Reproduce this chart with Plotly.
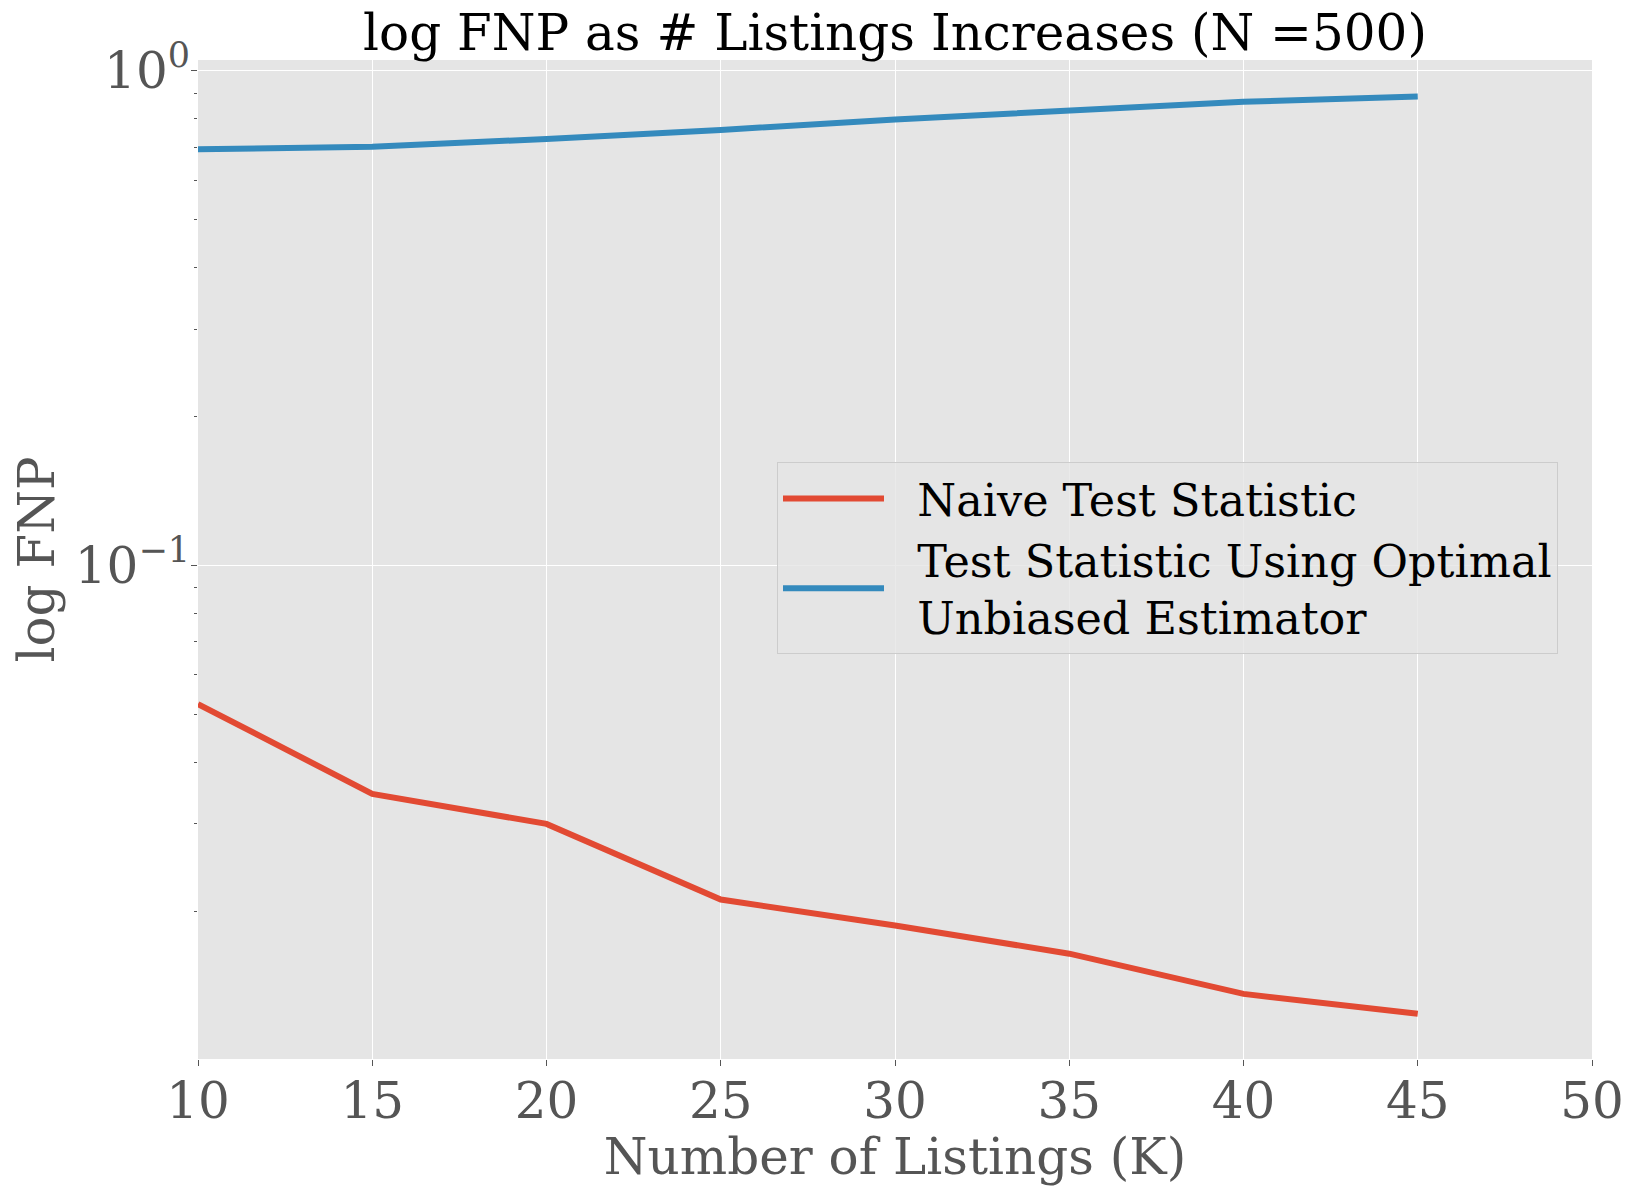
import plotly.graph_objects as go

# Data
listings_k = [10, 15, 20, 25, 30, 35, 40, 45]
naive_fnp = [0.0524, 0.0345, 0.0300, 0.0211, 0.0187, 0.0164, 0.0136, 0.0124]
optimal_fnp = [0.693, 0.701, 0.727, 0.758, 0.796, 0.831, 0.864, 0.886]
x_ticks = [10, 15, 20, 25, 30, 35, 40, 45, 50]
y_major = [0.1, 1]
y_major_text = ["10<sup>\u22121</sup>", "10<sup>0</sup>"]
y_minor = [0.02, 0.03, 0.04, 0.05, 0.06, 0.07, 0.08, 0.09,
           0.2, 0.3, 0.4, 0.5, 0.6, 0.7, 0.8, 0.9]
series_names = ["Naive Test Statistic",
                "Test Statistic Using Optimal<br>Unbiased Estimator"]

FONT = "DejaVu Serif"
RED = "#E24A33"
BLUE = "#348ABD"
GREY = "#555555"
YRANGE = [-1.998, 0.021]
PAD = "\u00a0\u00a0"

# page body has an 8px margin; figure is sized to fit the 1633x1194 window
W, H = 1617, 1178
ML, MR, MT, MB = 190, 33, 52, 127


def pad_name(s):
    return "<br>".join(PAD + part for part in s.split("<br>"))


fig = go.Figure()
fig.add_trace(go.Scatter(x=listings_k, y=naive_fnp, mode="lines",
                         name=pad_name(series_names[0]),
                         line=dict(color=RED, width=6)))
fig.add_trace(go.Scatter(x=listings_k, y=optimal_fnp, mode="lines",
                         name=pad_name(series_names[1]),
                         line=dict(color=BLUE, width=6)))
# invisible trace to host minor-tick axis
fig.add_trace(go.Scatter(x=listings_k, y=naive_fnp, mode="lines", yaxis="y2",
                         line=dict(width=0), opacity=0, showlegend=False,
                         hoverinfo="skip"))

pw = W - ML - MR
ph = H - MT - MB

fig.update_layout(
    width=W, height=H,
    margin=dict(l=ML, r=MR, t=MT, b=MB),
    paper_bgcolor="white",
    plot_bgcolor="#E5E5E5",
    font=dict(family=FONT, color=GREY, size=50),
    title=dict(text="log FNP as # Listings Increases (N =500)",
               font=dict(family=FONT, size=50, color="black"),
               x=0.5, xref="paper", xanchor="center",
               y=1 - 24.5 / H, yref="container", yanchor="middle",
               automargin=False),
    xaxis=dict(range=[10, 50], tickvals=x_ticks, showgrid=True,
               gridcolor="white", gridwidth=1, zeroline=False,
               ticks="outside", ticklen=6, tickcolor=GREY, tickwidth=1,
               showline=False, tickfont=dict(size=50, color=GREY),
               ticklabelstandoff=-8, automargin=False,
               title=dict(text="Number of Listings (K)", standoff=3,
                          font=dict(size=50, color=GREY))),
    yaxis=dict(type="log", range=YRANGE, tickvals=y_major,
               ticktext=y_major_text, showgrid=True, gridcolor="white",
               gridwidth=1, zeroline=False, ticks="outside", ticklen=6,
               tickcolor=GREY, tickwidth=1, showline=False,
               tickfont=dict(size=50, color=GREY), automargin=False,
               ticklabelstandoff=-9,
               title=dict(text="log FNP", standoff=23,
                          font=dict(size=50, color=GREY))),
    yaxis2=dict(type="log", range=YRANGE, overlaying="y", side="left",
                anchor="x", tickvals=y_minor, showticklabels=False,
                ticks="outside", ticklen=3, tickcolor=GREY, tickwidth=1,
                showgrid=False, zeroline=False, showline=False,
                automargin=False),
    legend=dict(x=(777 - 198) / pw, y=1 - (462 - 60) / ph,
                xanchor="left", yanchor="top",
                bgcolor="rgba(229,229,229,0.8)", bordercolor="#CCCCCC",
                borderwidth=1, font=dict(family=FONT, size=44.5, color="black"),
                itemwidth=101, tracegroupgap=12),
    showlegend=True,
)

fig.write_html("out.html")
